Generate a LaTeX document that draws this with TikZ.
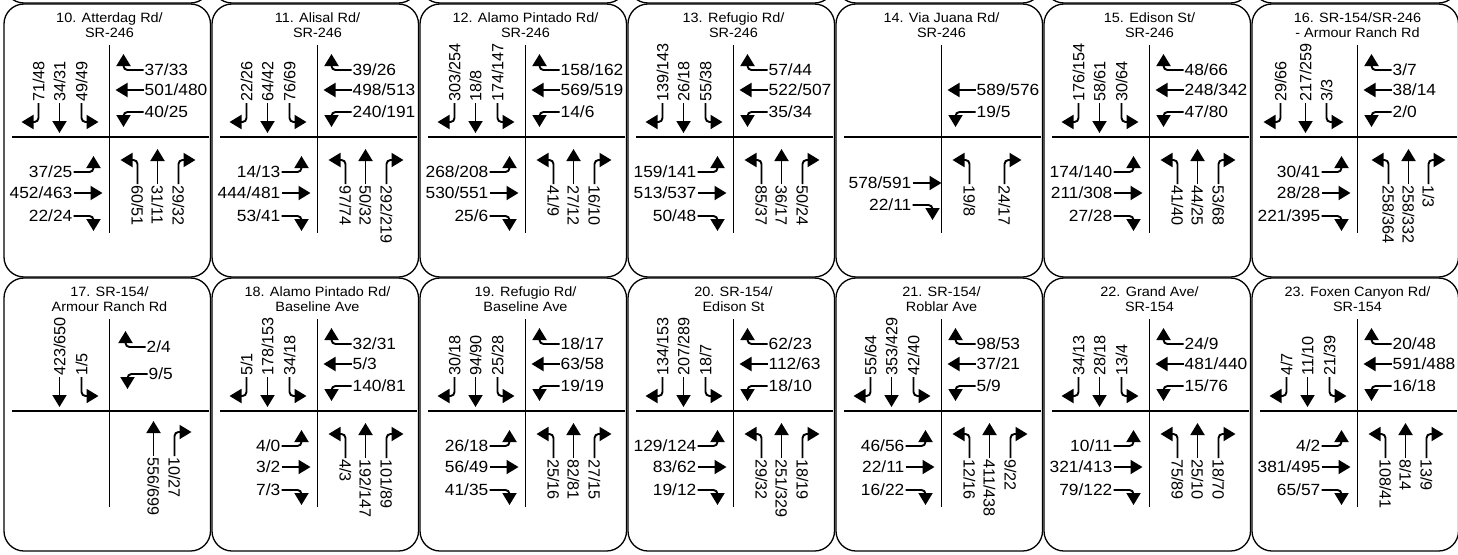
\documentclass[tikz,border=0pt]{standalone}
\usepackage{fontspec}
\setmainfont{Liberation Sans}
\newfontfamily\widefont[FakeStretch=1.07]{Liberation Sans}
\usetikzlibrary{arrows.meta}

% panel frame, title and the two roads, drawn round the centre of the crossing
\newcommand{\crossing}[2]{%
  \draw[panel] (-105.5,-133) rectangle (101,140);
  \node[heading] (name) at (0,-111.5) {#1\\#2};
  \draw[road] (0,-92) -- (0,96);
  \draw[road] (-97.5,0) -- (99.5,0);}

% southbound
\newcommand{\sbR}[2][-71,-34]{%
  \node[vvol, rotate=90, anchor=west] (sbr) at (#1) {#2};
  \draw[mov] (sbr.west) |- ++(-17,19);}
\newcommand{\sbT}[2][-50,-34]{%
  \node[vvol, rotate=90, anchor=west] (sbt) at (#1) {#2};
  \draw[mov] (sbt.west) -- ++(0,30);}
\newcommand{\sbL}[2][-28,-34]{%
  \node[vvol, rotate=90, anchor=west] (sbl) at (#1) {#2};
  \draw[mov] (sbl.west) |- ++(17,19);}
% westbound
\newcommand{\wbR}[2][34,-67]{%
  \node[vol, anchor=west] (wbr) at (#1) {#2};
  \draw[mov] (wbr.west) -| ++(-20,-16);}
\newcommand{\wbT}[2][34,-47]{%
  \node[vol, anchor=west] (wbt) at (#1) {#2};
  \draw[mov] (wbt.west) -- ++(-28,0);}
\newcommand{\wbL}[2][34,-25]{%
  \node[vol, anchor=west] (wbl) at (#1) {#2};
  \draw[mov] (wbl.west) -| ++(-20,15);}
% eastbound
\newcommand{\ebL}[2][-36,35]{%
  \node[vol, anchor=east] (ebl) at (#1) {#2};
  \draw[mov] (ebl.east) -| ++(20,-16);}
\newcommand{\ebT}[2][-36,56]{%
  \node[vol, anchor=east] (ebt) at (#1) {#2};
  \draw[mov] (ebt.east) -- ++(29,0);}
\newcommand{\ebR}[2][-36,79]{%
  \node[vol, anchor=east] (ebr) at (#1) {#2};
  \draw[mov] (ebr.east) -| ++(20,15);}
% northbound
\newcommand{\nbL}[2][28,47]{%
  \node[vvol, rotate=-90, anchor=west] (nbl) at (#1) {#2};
  \draw[mov] (nbl.west) |- ++(-17,-24);}
\newcommand{\nbT}[2][48,47]{%
  \node[vvol, rotate=-90, anchor=west] (nbt) at (#1) {#2};
  \draw[mov] (nbt.west) -- ++(0,-35);}
\newcommand{\nbR}[2][69,47]{%
  \node[vvol, rotate=-90, anchor=west] (nbr) at (#1) {#2};
  \draw[mov] (nbr.west) |- ++(17,-24);}

\begin{document}
\begin{tikzpicture}[
  x=1pt, y=-1pt,
  panel/.style={draw, line width=1.3pt, rounded corners=20pt},
  road/.style={draw, line width=1.1pt},
  heading/.style={align=center, inner sep=0pt, font=\widefont\fontsize{13.5}{15}\selectfont},
  vol/.style={inner sep=1pt, font=\widefont\fontsize{16.2}{16}\selectfont},
  vvol/.style={inner sep=1pt, font=\fontsize{16.2}{16}\selectfont},
  mov/.style={-{Triangle[length=12pt,width=14pt]}, line width=1.9pt, rounded corners=4pt}
]
\useasboundingbox (0,0) rectangle (1458,554);
\clip (0,0) rectangle (1458,554);

% panels of the row above
\foreach \i in {0,...,6}
  \draw[panel] ({4+208*\i},-270) rectangle ++(206.5,273);

% row 1
\begin{scope}[shift={(109.5,137)}, name prefix=p10-]
  \crossing{10. Atterdag Rd/}{SR-246}
  \sbR{71/48} \sbT{34/31} \sbL{49/49}
  \wbR{37/33} \wbT{501/480} \wbL{40/25}
  \ebL{37/25} \ebT{452/463} \ebR{22/24}
  \nbL{60/51} \nbT{31/11} \nbR{29/32}
\end{scope}

\begin{scope}[shift={(317.5,137)}, name prefix=p11-]
  \crossing{11. Alisal Rd/}{SR-246}
  \sbR{22/26} \sbT{64/42} \sbL{76/69}
  \wbR{39/26} \wbT{498/513} \wbL{240/191}
  \ebL{14/13} \ebT{444/481} \ebR{53/41}
  \nbL{97/74} \nbT{50/32} \nbR{292/219}
\end{scope}

\begin{scope}[shift={(525.5,137)}, name prefix=p12-]
  \crossing{12. Alamo Pintado Rd/}{SR-246}
  \sbR{303/254} \sbT{18/8} \sbL{174/147}
  \wbR{158/162} \wbT{569/519} \wbL{14/6}
  \ebL{268/208} \ebT{530/551} \ebR{25/6}
  \nbL{41/9} \nbT{27/12} \nbR{16/10}
\end{scope}

\begin{scope}[shift={(733.5,137)}, name prefix=p13-]
  \crossing{13. Refugio Rd/}{SR-246}
  \sbR{139/143} \sbT{26/18} \sbL{55/38}
  \wbR{57/44} \wbT{522/507} \wbL{35/34}
  \ebL{159/141} \ebT{513/537} \ebR{50/48}
  \nbL{85/37} \nbT{36/17} \nbR{50/24}
\end{scope}

\begin{scope}[shift={(941.5,137)}, name prefix=p14-]
  \crossing{14. Via Juana Rd/}{SR-246}
  \wbT{589/576} \wbL{19/5}
  \ebT[-29,46]{578/591} \ebR[-29,68]{22/11}
  \nbL[28,47]{19/8} \nbR[63,47]{24/17}
\end{scope}

\begin{scope}[shift={(1149.5,137)}, name prefix=p15-]
  \crossing{15. Edison St/}{SR-246}
  \sbR{176/154} \sbT{58/61} \sbL{30/64}
  \wbR{48/66} \wbT{248/342} \wbL{47/80}
  \ebL{174/140} \ebT{211/308} \ebR{27/28}
  \nbL{41/40} \nbT{44/25} \nbR{53/68}
\end{scope}

\begin{scope}[shift={(1357.5,137)}, name prefix=p16-]
  \crossing{16. SR-154/SR-246}{- Armour Ranch Rd}
  \sbR[-77,-34]{29/66} \sbT[-52,-34]{217/259} \sbL[-31,-34]{3/3}
  \wbR{3/7} \wbT{38/14} \wbL{2/0}
  \ebL{30/41} \ebT{28/28} \ebR{221/395}
  \nbL[31,47]{258/364} \nbT[51,47]{258/332} \nbR[71,47]{1/3}
\end{scope}

% row 2
\begin{scope}[shift={(109.5,411)}, name prefix=p17-]
  \crossing{17. SR-154/}{Armour Ranch Rd}
  \sbT{423/650} \sbL{1/5}
  \wbR[36,-64]{2/4} \wbL[38,-37]{9/5}
  \nbT[44,45]{556/699} \nbR[65,45]{10/27}
\end{scope}

\begin{scope}[shift={(317.5,411)}, name prefix=p18-]
  \crossing{18. Alamo Pintado Rd/}{Baseline Ave}
  \sbR{5/1} \sbT{178/153} \sbL{34/18}
  \wbR{32/31} \wbT{5/3} \wbL{140/81}
  \ebL{4/0} \ebT{3/2} \ebR{7/3}
  \nbL{4/3} \nbT{192/147} \nbR{101/89}
\end{scope}

\begin{scope}[shift={(525.5,411)}, name prefix=p19-]
  \crossing{19. Refugio Rd/}{Baseline Ave}
  \sbR{30/18} \sbT{94/90} \sbL{25/28}
  \wbR{18/17} \wbT{63/58} \wbL{19/19}
  \ebL{26/18} \ebT{56/49} \ebR{41/35}
  \nbL{25/16} \nbT{82/81} \nbR{27/15}
\end{scope}

\begin{scope}[shift={(733.5,411)}, name prefix=p20-]
  \crossing{20. SR-154/}{Edison St}
  \sbR{134/153} \sbT{207/289} \sbL{18/7}
  \wbR{62/23} \wbT{112/63} \wbL{18/10}
  \ebL{129/124} \ebT{83/62} \ebR{19/12}
  \nbL{29/32} \nbT{251/329} \nbR{18/19}
\end{scope}

\begin{scope}[shift={(941.5,411)}, name prefix=p21-]
  \crossing{21. SR-154/}{Roblar Ave}
  \sbR{55/64} \sbT{353/429} \sbL{42/40}
  \wbR{98/53} \wbT{37/21} \wbL{5/9}
  \ebL{46/56} \ebT{22/11} \ebR{16/22}
  \nbL{12/16} \nbT{411/438} \nbR{9/22}
\end{scope}

\begin{scope}[shift={(1149.5,411)}, name prefix=p22-]
  \crossing{22. Grand Ave/}{SR-154}
  \sbR{34/13} \sbT{28/18} \sbL{13/4}
  \wbR{24/9} \wbT{481/440} \wbL{15/76}
  \ebL{10/11} \ebT{321/413} \ebR{79/122}
  \nbL{75/89} \nbT{25/10} \nbR{18/70}
\end{scope}

\begin{scope}[shift={(1357.5,411)}, name prefix=p23-]
  \crossing{23. Foxen Canyon Rd/}{SR-154}
  \sbR{4/7} \sbT{11/10} \sbL{21/39}
  \wbR{20/48} \wbT{591/488} \wbL{16/18}
  \ebL{4/2} \ebT{381/495} \ebR{65/57}
  \nbL{108/41} \nbT{8/14} \nbR{13/9}
\end{scope}

\end{tikzpicture}
\end{document}
